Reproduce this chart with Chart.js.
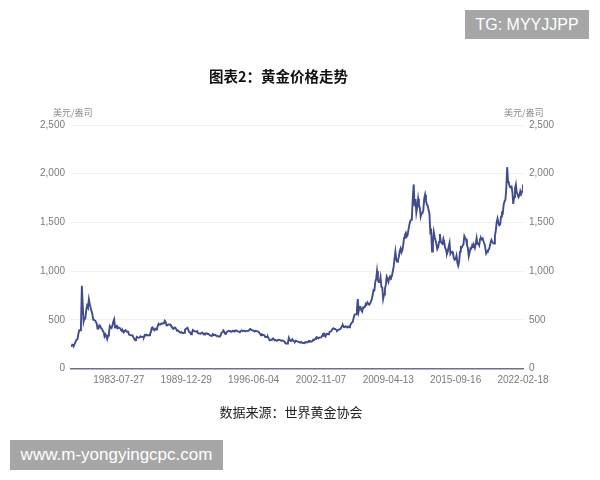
<!DOCTYPE html>
<html>
<head>
<meta charset="utf-8">
<script src="https://cdn.jsdelivr.net/npm/chart.js@4.4.1/dist/chart.umd.min.js"></script>
<style>
  body { margin: 0; background: #fff; }
  #wrap { position: relative; width: 600px; height: 480px; overflow: hidden; font-family: "Noto Sans CJK SC", sans-serif; }
  #chart { position: absolute; left: 0; top: 0; }
  .txt { position: absolute; white-space: nowrap; }
  .title { left: 0; width: 557px; top: 65px; text-align: center; font-size: 14.5px; font-weight: bold; color: #111; }
  .unit { top: 106px; font-size: 9px; color: #8a8a8a; }
  .source { left: 0; width: 582px; top: 402px; text-align: center; font-size: 13px; color: #222; }
  .mark { background: #a6a6a6; color: #fff; font-family: "Liberation Sans", Arial, sans-serif; line-height: 30px; text-align: center; }
</style>
</head>
<body>
<div id="wrap">
  <canvas id="chart" width="600" height="480"></canvas>
  <div class="txt mark" style="left:465px;top:10px;width:124px;height:29px;font-size:16px;line-height:29px;">TG: MYYJJPP</div>
  <div class="txt title">图表2：黄金价格走势</div>
  <div class="txt unit" style="left:53px;">美元/盎司</div>
  <div class="txt unit" style="left:504px;">美元/盎司</div>
  <div class="txt source">数据来源：世界黄金协会</div>
  <div class="txt mark" style="left:10px;top:440px;width:213px;height:30px;font-size:17px;">www.m-yongyingcpc.com</div>
</div>
<script>
// monthly gold price, USD/oz, Jan 1979 .. Feb 2022
const startYear = 1979;
const axisStart = '1979-01-01';
const axisEnd = '2022-02-18';
const tickLabels = ['1983-07-27', '1989-12-29', '1996-06-04', '2002-11-07', '2009-04-13', '2015-09-16', '2022-02-18'];
const yTicks = [0, 500, 1000, 1500, 2000, 2500];

const prices = [
  // 1979
  222, 245, 242, 239, 257, 279, 296, 301, 355, 392, 392, 456,
  // 1980
  850, 640, 480, 515, 514, 600, 645, 627, 710, 661, 623, 590,
  // 1981
  557, 500, 499, 496, 480, 461, 409, 410, 443, 437, 413, 410,
  // 1982
  384, 374, 330, 350, 334, 303, 339, 364, 435, 422, 414, 444,
  // 1983
  481, 505, 420, 432, 438, 413, 422, 416, 412, 394, 382, 388,
  // 1984
  371, 387, 394, 381, 377, 378, 348, 348, 341, 340, 341, 320,
  // 1985
  303, 290, 304, 325, 317, 317, 317, 330, 323, 326, 325, 322,
  // 1986
  345, 339, 346, 340, 342, 342, 348, 376, 418, 423, 398, 391,
  // 1987
  408, 401, 409, 438, 460, 450, 450, 461, 460, 465, 468, 490,
  // 1988
  477, 442, 444, 452, 451, 451, 438, 431, 413, 406, 420, 419,
  // 1989
  404, 388, 390, 384, 371, 367, 375, 365, 362, 367, 394, 409,
  // 1990
  410, 417, 393, 374, 369, 352, 362, 395, 389, 381, 381, 378,
  // 1991
  384, 363, 363, 358, 357, 366, 368, 356, 349, 359, 360, 361,
  // 1992
  354, 354, 345, 338, 337, 341, 353, 343, 345, 344, 335, 334,
  // 1993
  329, 329, 330, 342, 367, 372, 392, 379, 355, 364, 374, 383,
  // 1994
  387, 382, 384, 377, 381, 386, 385, 380, 391, 389, 384, 379,
  // 1995
  379, 377, 382, 391, 385, 387, 386, 383, 383, 383, 386, 387,
  // 1996
  400, 405, 396, 393, 392, 385, 383, 387, 383, 381, 378, 369,
  // 1997
  355, 347, 352, 344, 344, 341, 324, 324, 323, 325, 306, 289,
  // 1998
  289, 297, 296, 308, 299, 292, 293, 284, 289, 296, 294, 291,
  // 1999
  287, 288, 286, 282, 277, 261, 254, 257, 265, 315, 293, 283,
  // 2000
  284, 300, 286, 280, 275, 286, 282, 275, 273, 270, 266, 272,
  // 2001
  266, 262, 263, 261, 272, 270, 268, 273, 283, 283, 276, 276,
  // 2002
  282, 296, 294, 302, 314, 322, 314, 310, 319, 317, 319, 333,
  // 2003
  356, 359, 340, 328, 355, 356, 351, 360, 379, 379, 389, 407,
  // 2004
  414, 405, 406, 404, 384, 392, 398, 401, 405, 420, 439, 442,
  // 2005
  424, 423, 434, 429, 422, 431, 424, 437, 456, 470, 476, 510,
  // 2006
  549, 555, 557, 610, 712, 590, 633, 632, 598, 585, 627, 629,
  // 2007
  631, 664, 655, 680, 667, 655, 665, 665, 712, 754, 806, 803,
  // 2008
  889, 922, 1000, 909, 888, 889, 939, 839, 829, 715, 760, 816,
  // 2009
  858, 943, 924, 890, 928, 946, 934, 949, 996, 1043, 1127, 1200,
  // 2010
  1118, 1095, 1113, 1148, 1205, 1232, 1193, 1215, 1271, 1343, 1370, 1391,
  // 2011
  1356, 1372, 1424, 1473, 1510, 1529, 1572, 1756, 1890, 1665, 1739, 1600,
  // 2012
  1656, 1742, 1673, 1650, 1560, 1596, 1594, 1626, 1744, 1785, 1721, 1684,
  // 2013
  1671, 1627, 1593, 1400, 1414, 1200, 1286, 1400, 1348, 1316, 1275, 1225,
  // 2014
  1244, 1300, 1380, 1299, 1287, 1279, 1330, 1296, 1238, 1222, 1176, 1201,
  // 2015
  1251, 1290, 1179, 1198, 1199, 1181, 1131, 1117, 1125, 1159, 1086, 1055,
  // 2016
  1097, 1200, 1246, 1242, 1260, 1276, 1360, 1341, 1326, 1266, 1238, 1152,
  // 2017
  1192, 1234, 1231, 1266, 1246, 1260, 1237, 1283, 1340, 1280, 1283, 1265,
  // 2018
  1331, 1340, 1325, 1335, 1304, 1281, 1238, 1180, 1198, 1215, 1221, 1250,
  // 2019
  1291, 1320, 1301, 1286, 1284, 1359, 1413, 1500, 1540, 1495, 1471, 1480,
  // 2020
  1560, 1597, 1591, 1683, 1715, 1732, 1846, 2067, 1921, 1900, 1866, 1858,
  // 2021
  1867, 1808, 1690, 1760, 1850, 1890, 1807, 1785, 1760, 1777, 1821, 1790,
  // 2022
  1817, 1888
];

const points = prices.map((v, i) => ({ x: Date.UTC(startYear, i, 15), y: v }));

const fmtDate = (v) => new Date(v).toISOString().slice(0, 10);
const fmtNum = (v) => v.toLocaleString('en-US');

const yAxis = (position, width) => ({
  type: 'linear',
  position: position,
  min: 0,
  max: 2500,
  afterBuildTicks: (scale) => { scale.ticks = yTicks.map((v) => ({ value: v })); },
  afterFit: (scale) => { scale.width = width; },
  border: { display: false },
  grid: {
    display: position === 'left',
    drawTicks: false,
    color: (c) => (c.tick && c.tick.value === 0 ? 'rgba(0,0,0,0)' : '#efefef'),
    lineWidth: 1,
  },
  ticks: {
    padding: 6,
    color: '#7a7a7a',
    font: { family: 'Liberation Sans', size: 10 },
    callback: fmtNum,
  },
});

new Chart(document.getElementById('chart').getContext('2d'), {
  type: 'line',
  data: {
    datasets: [
      {
        label: '黄金价格',
        data: points,
        borderColor: '#414c8e',
        borderWidth: 1.9,
        pointRadius: 0,
        tension: 0,
        fill: false,
      },
    ],
  },
  options: {
    responsive: false,
    animation: false,
    layout: { padding: { top: 125, left: 0, right: 0, bottom: 0 } },
    plugins: {
      legend: { display: false },
      tooltip: { enabled: false },
    },
    scales: {
      x: {
        type: 'linear',
        min: Date.parse(axisStart),
        max: Date.parse(axisEnd),
        afterBuildTicks: (scale) => { scale.ticks = tickLabels.map((s) => ({ value: Date.parse(s) })); },
        afterFit: (scale) => { scale.height = 111.5; },
        grid: { display: false, drawTicks: false },
        border: { display: true, color: '#6e7181', width: 1.5 },
        ticks: {
          padding: 6,
          autoSkip: false,
          maxRotation: 0,
          color: '#7a7a7a',
          font: { family: 'Liberation Sans', size: 10 },
          callback: fmtDate,
        },
      },
      y: yAxis('left', 71),
      y2: yAxis('right', 77),
    },
  },
});
</script>
</body>
</html>
